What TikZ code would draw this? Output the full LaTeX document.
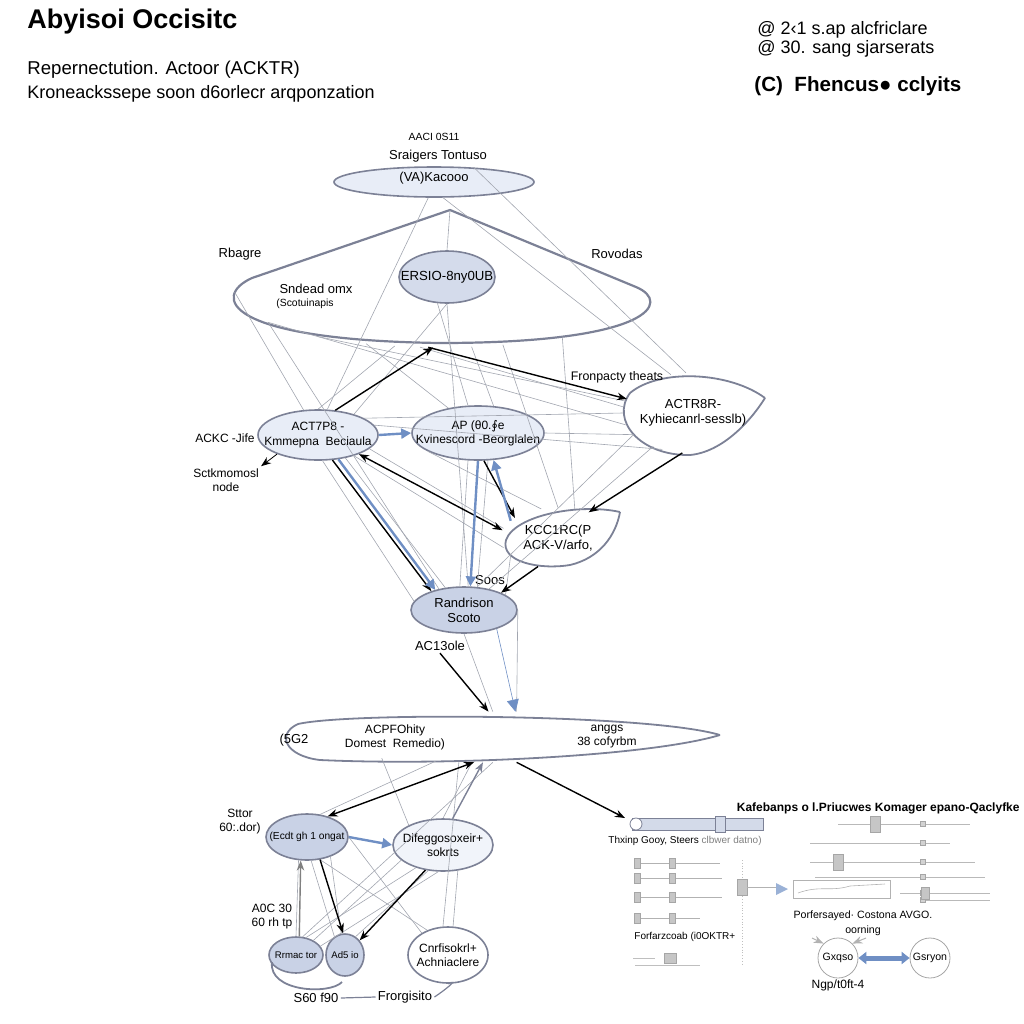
\documentclass[tikz,border=0pt]{standalone}
\usepackage{fontspec}
\setmainfont{Liberation Sans}
\newfontfamily\symfont{DejaVu Sans}
\usetikzlibrary{positioning}
\usetikzlibrary{shapes.geometric}
\usetikzlibrary{arrows.meta}

\definecolor{edgegray}{HTML}{7C8196}
\definecolor{palefill}{HTML}{E8EDF7}
\definecolor{midfill}{HTML}{C9D2E6}
\definecolor{wiregray}{HTML}{A2A6B0}
\definecolor{arrowblue}{HTML}{6F8FC4}
\definecolor{barfill}{HTML}{D3DAE9}

\begin{document}
\begin{tikzpicture}[
			x=0.5pt, y=-0.5pt,
			every node/.style={font=\fontsize{6.5}{7.6}\selectfont, align=center, inner sep=1pt},
			oval/.style={ellipse, draw=edgegray, line width=0.8pt, inner sep=0pt},
			ghost/.style={ellipse, inner sep=0pt},
			outline/.style={draw=edgegray, line width=0.9pt},
			wire/.style={draw=wiregray, line width=0.3pt},
			link/.style={-{Stealth[length=5pt]}, line width=0.7pt},
			bluelink/.style={-{Triangle[length=5pt,width=5pt]}, draw=arrowblue, fill=arrowblue, line width=1.2pt},
			slot/.style={draw=gray!70, fill=gray!45, minimum width=3pt, minimum height=5pt, inner sep=0pt},
			small/.style={font=\fontsize{5.2}{6.2}\selectfont},
			]
			\useasboundingbox (0,0) rectangle (1024,1024);

			% header
			\node[anchor=west, font=\fontsize{13.5}{15}\selectfont\bfseries] (title) at (25,22) {Abyisoi Occisitc};
			\node[anchor=west, font=\fontsize{9.3}{11}\selectfont] (sub1) at (25,70) {Repernectution. Actoor (ACKTR)};
			\node[anchor=west, font=\fontsize{9}{11}\selectfont] (sub2) at (25,94) {Kroneackssepe soon d6orlecr arqponzation};
			\node[anchor=west, font=\fontsize{9}{10}\selectfont] (note1) at (755,30) {@ 2‹1 s.ap alcfriclare};
			\node[anchor=west, font=\fontsize{9}{10}\selectfont] (note2) at (755,49) {@ 30. sang sjarserats};
			\node[anchor=west, font=\fontsize{10.3}{12}\selectfont\bfseries] (note3) at (752,86) {(C)\ \ Fhencus● cclyits};

			% top part
			\node[oval, fill=palefill, minimum width=100pt, minimum height=15pt,
				label={[yshift=2pt]center:(VA)Kacooo}] (top) at (434,182) {};
			\node (toplbl) at (438,156) {Sraigers Tontuso};
			\node[small] (topcap) at (434,137) {AACI 0S11};
			\coordinate (apex) at (450,210);
			\draw[outline, line width=1.1pt] (apex) -- (252,278) .. controls (212,296) and (222,340) .. (440,343)
				.. controls (652,343) and (672,302) .. (636,287) -- cycle;
			\node[ghost, minimum width=205pt, minimum height=55pt] (cone) at (440,292) {};
			\node[oval, fill=midfill!80, minimum width=48pt, minimum height=26pt,
				label={[font=\fontsize{6.6}{8}\selectfont]center:ERSIO-8ny0UB}] (ersio) at (447,277) {};
			\node (rbagre) at (240,254) {Rbagre};
			\node (rovodas) at (617,254) {Rovodas};
			\node (sndead) at (316,289) {Sndead omx};
			\node[small] (scot) at (305,304) {(Scotuinapis};

			% middle row
			\node[oval, fill=palefill, minimum width=60pt, minimum height=25pt,
				label={[font=\fontsize{6}{7.2}\selectfont]center:{ACT7P8 -\\Kmmepna\ \ Beciaula}}] (kmm) at (318,435) {};
			\node[oval, fill=palefill, minimum width=66pt, minimum height=27pt,
				label={[font=\fontsize{6}{7.2}\selectfont]center:{AP (θ0.{\symfont ∮}e\\Kvinescord -Beorglalen}}] (kvi) at (478,433) {};
			\draw[outline] (765,398) .. controls (730,372) and (660,368) .. (630,393)
				.. controls (610,420) and (640,456) .. (690,455) .. controls (722,452) and (750,422) .. (765,398);
			\node[ghost, minimum width=70pt, minimum height=40pt,
				label={center:{ACTR8R-\\Kyhiecanrl-sesslb)}}] (kyh) at (693,413) {};
			\node[font=\fontsize{6.2}{7}\selectfont] (fron) at (617,377) {Fronpacty theats};
			\draw[outline] (620,512) .. controls (580,503) and (515,515) .. (506,540)
				.. controls (500,562) and (540,570) .. (570,565) .. controls (600,558) and (616,535) .. (620,512);
			\node[ghost, minimum width=57pt, minimum height=30pt,
				label={center:{KCC1RC(P\\ACK-V/arfo,}}] (kcc) at (558,538) {};
			\node[oval, fill=midfill, minimum width=53pt, minimum height=23pt,
				label={center:{Randrison\\Scoto}}] (rand) at (464,610) {};
			\node[font=\fontsize{6}{7}\selectfont] (ackc) at (225,438) {ACKC -Jife};
			\node[font=\fontsize{6}{7}\selectfont] (sctk) at (226,480) {Sctkmomosl\\node};
			\node (soos) at (490,580) {Soos};
			\node (ac13) at (440,646) {AC13ole};

			% lower ellipse
			\draw[outline] (720,735) .. controls (650,714) and (350,712) .. (298,724)
				.. controls (276,734) and (285,756) .. (320,760) .. controls (450,766) and (650,756) .. (720,735);
			\node[ghost, minimum width=218pt, minimum height=25pt] (dom) at (502,737) {};
			\node (g5) at (294,740) {(5G2};
			\node[font=\fontsize{6}{7}\selectfont] (acp) at (395,737) {ACPFOhity\\Domest\ \ Remedio)};
			\node[font=\fontsize{6}{7}\selectfont] (angg) at (607,737) {anggs\\38 cofyrbm};

			% lower cluster
			\node[oval, fill=midfill, minimum width=41pt, minimum height=23pt,
				label={[font=\fontsize{5.1}{6.2}\selectfont]center:(Ecdt gh 1 ongat}] (ecd) at (307,837) {};
			\node[oval, fill=palefill!60, minimum width=50pt, minimum height=26pt,
				label={[font=\fontsize{6}{7.2}\selectfont]center:{Difeggosoxeir+\\sokrts}}] (dif) at (443,845) {};
			\node[oval, fill=midfill, minimum width=27pt, minimum height=18pt,
				label={[font=\fontsize{4.8}{6}\selectfont]center:Rrmac tor}] (rrm) at (296,955) {};
			\node[oval, fill=midfill, minimum width=19pt, minimum height=21pt,
				label={[font=\fontsize{4.8}{6}\selectfont]center:Ad5 io}] (ads) at (345,955) {};
			\node[oval, fill=white, minimum width=40pt, minimum height=28pt,
				label={[font=\fontsize{6}{7.2}\selectfont]center:{Cnrfisokrl+\\Achniaclere}}] (cnr) at (448,955) {};
			\node[font=\fontsize{6}{7}\selectfont] (stor) at (240,822) {Sttor\\60:.dor)};
			\node[font=\fontsize{6}{7}\selectfont] (a0c) at (272,917) {A0C 30\\60 rh tp};
			\node (s60) at (316,998) {S60 f90};
			\node (frorg) at (405,997) {Frorgisito};
			\draw[outline] (272,962) .. controls (268,992) and (330,995) .. (342,982);
			\draw[edgegray, line width=0.6pt] (s60.east) -- (frorg.west);
			\draw[edgegray, line width=0.6pt] (frorg.east) .. controls (445,990) and (460,978) .. (cnr.south);

			% thin wires
			\foreach \a/\b in {top.250/kmm.70, top.300/kyh.120, apex/ersio.north, cone.200/kyh.170, cone.190/kyh.190,
				cone.190/rand.140, ersio.south/kmm.30, ersio.south/rand.80, ersio.250/kvi.110, cone.215/kvi.140,
				cone.230/kmm.90, kyh.180/kmm.20, kyh.200/rand.60, kmm.320/rand.130, kmm.300/rand.150,
				kmm.345/kcc.170, kvi.290/rand.60, kcc.190/kmm.330, kcc.200/rand.20, cone.180/kmm.120,
				kyh.230/kmm.10, kvi.0/kyh.200, cone.340/kcc.60, top.20/kyh.100, kyh.220/rand.40,
				rand.south/dom.110, rand.east/dom.60, kvi.250/rand.100, cone.320/kcc.90, cone.250/kyh.175,
				kmm.280/rand.170, kvi.200/kcc.120, cone.300/kvi.60,
				dom.200/ecd.60, dom.220/dif.90, ecd.300/cnr.130, ecd.320/ads.100, dif.220/rrm.60,
				dif.240/ads.60, ecd.250/rrm.90, dif.200/rrm.40, dom.190/dif.150, ecd.0/cnr.140,
				dom.250/rrm.70, dif.300/cnr.80, ecd.280/ads.120, dom.210/cnr.100, dif.260/rrm.20}
			\draw[wire] (\a) -- (\b);

			% arrows
			\draw[link] (kmm.55) -- (cone.263);
			\draw[link] (cone.258) -- (kyh.168);
			\draw[link] (kyh.255) -- (kcc.40);
			\draw[{Stealth[length=5pt]}-{Stealth[length=5pt]}, line width=0.7pt] (kmm.335) -- (kcc.172);
			\draw[link] (kvi.282) -- (kcc.155);
			\draw[link] (kcc.235) -- (rand.25);
			\draw[link] (kmm.300) -- (rand.150);
			\draw[link] (ac13.south) -- (dom.118);
			\draw[bluelink] (kmm.east) -- (kvi.west);
			\draw[bluelink] (kmm.310) -- (rand.145);
			\draw[bluelink] (kvi.270) -- (rand.75);
			\draw[bluelink] (kcc.160) -- (kvi.300);
			\draw[link, line width=0.4pt] (kmm.205) -- (sctk.north east);
			\draw[wire, -{Triangle[length=6pt,width=6pt]}, arrowblue] (rand.330) -- (dom.62);
			\draw[link] (dom.300) -- (625,818);
			\draw[{Stealth[length=5pt]}-{Stealth[length=5pt]}, line width=0.7pt] (dom.222) -- (ecd.45);
			\draw[bluelink] (ecd.east) -- (dif.west);
			\draw[link] (dif.235) -- (ads.45);
			\draw[link] (ecd.300) -- (ads.95);
			\draw[link, draw=gray] (rrm.80) -- (ecd.255);
			\draw[link, draw=edgegray] (dif.70) -- (dom.233);

			% right panel
			\draw[draw=edgegray, fill=barfill] (632,818) rectangle (763,830);
			\draw[draw=edgegray, fill=white] (636,824) circle (6);
			\draw[draw=edgegray, fill=barfill] (715,816) rectangle (725,832);
			\node[anchor=west, font=\fontsize{5}{6}\selectfont] (thx) at (606,841) {Thxinp Gooy, Steers \textcolor{gray}{clbwer datno)}};
			\foreach \y/\e in {863/720, 878/722, 897/722, 918/700}{
				\draw[gray!60, line width=0.4pt] (637,\y) -- (\e,\y);
				\node[slot] at (637,\y) {};
				\node[slot] at (672,\y) {};
			}
			\draw[gray!50, densely dotted] (742,860) -- (742,965);
			\node[slot, minimum width=5pt, minimum height=8pt] (sq) at (742,887) {};
			\draw[gray!60, line width=0.4pt] (sq.east) -- (776,887);
			\node[anchor=west, font=\fontsize{5}{6}\selectfont] (forf) at (632,937) {Forfarzcoab (i0OKTR+};
			\node[slot, minimum width=6pt] at (670,958) {};
			\draw[gray!50, line width=0.3pt] (633,958) -- (655,958) (635,965) -- (700,965);
			\node[anchor=east, font=\fontsize{6}{7}\selectfont\bfseries] (kaf) at (1022,808) {Kafebanps o l.Priucwes Komager epano-Qaclyfke};
			\foreach \y/\s/\f in {824/838/970, 843/810/950, 862/810/975, 877/815/985, 893/900/990, 900/920/990}{
				\draw[gray!55, line width=0.4pt] (\s,\y) -- (\f,\y);
				\node[draw=gray!70, fill=gray!35, inner sep=0pt, minimum size=2.5pt] at (923,\y) {};
			}
			\node[slot, minimum width=5pt, minimum height=8pt] at (875,824) {};
			\node[slot, minimum width=5pt, minimum height=8pt] at (838,862) {};
			\node[slot, minimum width=4pt, minimum height=6pt] at (925,893) {};
			\draw[draw=gray!60, line width=0.4pt] (793,880) rectangle (890,898);
			\draw[gray!60, line width=0.3pt] (798,893) .. controls (820,885) and (830,892) .. (850,886) -- (885,884);
			\fill[arrowblue!70] (776,883) -- (788,889) -- (776,895) -- cycle;
			\node[font=\fontsize{5.3}{7.5}\selectfont] (pofer) at (863,923) {Porfersayed· Costona AVGO.\\oorning};
			\node[circle, draw=gray!70, minimum size=20pt, inner sep=0pt, font=\fontsize{5.3}{6}\selectfont] (gxq) at (838,958) {Gxqso};
			\node[circle, draw=gray!70, minimum size=20pt, inner sep=0pt, font=\fontsize{5.3}{6}\selectfont] (gsr) at (930,958) {Gsryon};
			\draw[{Triangle[length=4pt,width=6pt]}-{Triangle[length=4pt,width=6pt]}, draw=arrowblue, line width=2.5pt] (gxq.east) -- (gsr.west);
			\draw[link, draw=gray!60, line width=0.5pt] (812,938) -- (gxq.135);
			\draw[link, draw=gray!60, line width=0.5pt] (866,938) -- (gxq.45);
			\node[font=\fontsize{6}{7}\selectfont] (ngp) at (838,985) {Ngp/t0ft-4};
		\end{tikzpicture}
\end{document}
